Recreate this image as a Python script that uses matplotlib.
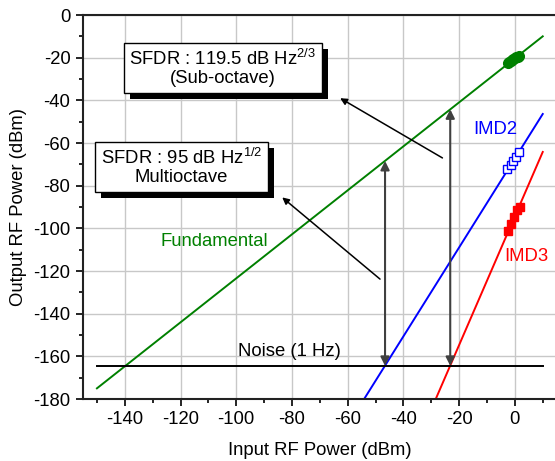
import numpy as np
import matplotlib.pyplot as plt
from matplotlib import patheffects
from matplotlib.ticker import MultipleLocator

plt.rcParams['font.family'] = ['Liberation Sans', 'DejaVu Sans']
plt.rcParams['mathtext.fontset'] = 'custom'
plt.rcParams['mathtext.rm'] = 'Liberation Sans'
plt.rcParams['axes.unicode_minus'] = False

# data
fund_x = [-150, 10]
fund_y = [-175, -10]
imd2_x = [-54.1, 10]
imd2_y = [-180, -46.4]
imd3_x = [-28.4, 10]
imd3_y = [-180, -64.2]
noise_x = [-150, 10]
noise_y = [-164.5, -164.5]

fund_meas_x = [-2.5, -2.0, -1.5, -1.0, -0.5, 0.0, 0.5, 1.0, 1.5]
fund_meas_y = [-22.5, -22.1, -21.6, -21.1, -20.7, -20.3, -19.9, -19.5, -19.1]
imd2_meas_x = [-2.9, -1.4, -0.7, 0.4, 1.4]
imd2_meas_y = [-72.2, -70.3, -68.4, -66.6, -64.2]
imd3_meas_x = [-2.5, -1.4, -0.4, 0.7, 1.8]
imd3_meas_y = [-101.3, -97.9, -94.6, -91.3, -89.9]

# SFDR arrows: x position, fundamental level at that x
sfdr_x = [-46.6, -23.2]
sfdr_top = [-68.4, -44.2]
noise_level = -164.5

FS = 13.3

fig = plt.figure(figsize=(5.55, 4.61), dpi=100)
ax = fig.add_axes([83/555, 1-399/461, 1-83/555, (399-15)/461])

ax.plot(fund_x, fund_y, color='green', lw=1.4)
ax.plot(imd2_x, imd2_y, color='blue', lw=1.4)
ax.plot(imd3_x, imd3_y, color='red', lw=1.4)
ax.plot(noise_x, noise_y, color='black', lw=1.4)

ax.plot(fund_meas_x, fund_meas_y, 'o', color='green', ms=7, mec='green')
ax.plot(imd2_meas_x, imd2_meas_y, 's', color='blue', mfc='white', ms=6, mew=1)
ax.plot(imd3_meas_x, imd3_meas_y, 's', color='red', ms=6)

# vertical SFDR arrows
for x, top in zip(sfdr_x, sfdr_top):
    ax.annotate('', xy=(x, top), xytext=(x, noise_level),
                arrowprops=dict(arrowstyle='<|-|>', color='#404040', lw=1.5,
                                mutation_scale=13, shrinkA=0, shrinkB=0))

# pointer arrows
ax.annotate('', xy=(-62.7, -39), xytext=(-26, -67),
            arrowprops=dict(arrowstyle='-|>', color='black', lw=1.1,
                            mutation_scale=10, shrinkA=0, shrinkB=0))
ax.annotate('', xy=(-83.5, -85.5), xytext=(-48.4, -123.8),
            arrowprops=dict(arrowstyle='-|>', color='black', lw=1.1,
                            mutation_scale=10, shrinkA=0, shrinkB=0))

shadow = [patheffects.SimplePatchShadow(offset=(4.3, -4.3), shadow_rgbFace='black', alpha=1),
          patheffects.Normal()]
t1 = ax.text(-104.8, -24.8, 'SFDR : 119.5 dB Hz$^{\\mathrm{2/3}}$\n(Sub-octave)', ha='center', va='center',
             fontsize=FS, linespacing=1.1,
             bbox=dict(boxstyle='square,pad=0.3', fc='white', ec='black', lw=1))
t1.get_bbox_patch().set_path_effects(shadow)
t2 = ax.text(-119.6, -71.3, 'SFDR : 95 dB Hz$^{\\mathrm{1/2}}$\nMultioctave', ha='center', va='center',
             fontsize=FS, linespacing=1.1,
             bbox=dict(boxstyle='square,pad=0.3', fc='white', ec='black', lw=1))
t2.get_bbox_patch().set_path_effects(shadow)

ax.text(-107.7, -106.4, 'Fundamental', color='green', fontsize=FS, ha='center', va='center')
ax.text(-7.2, -53.9, 'IMD2', color='blue', fontsize=FS, ha='center', va='center')
ax.text(4.3, -113, 'IMD3', color='red', fontsize=FS, ha='center', va='center')
ax.text(-80.8, -157.5, 'Noise (1 Hz)', color='black', fontsize=FS, ha='center', va='center')

ax.set_xlim(-155, 14.4)
ax.set_ylim(-180, 0)
ax.xaxis.set_minor_locator(MultipleLocator(10))
ax.yaxis.set_major_locator(MultipleLocator(20))
ax.yaxis.set_minor_locator(MultipleLocator(10))
ax.set_xticks(np.arange(-140, 1, 20))
ax.tick_params(which='major', direction='out', length=5, width=1.2, labelsize=FS, pad=4)
ax.tick_params(which='minor', direction='out', length=3, width=1.2)
ax.grid(True, which='major', color='#c8c8c8', lw=1)
ax.set_axisbelow(True)
ax.spines['right'].set_visible(False)
for s in ['left', 'bottom', 'top']:
    ax.spines[s].set_linewidth(1.5)
    ax.spines[s].set_color('#222222')

ax.set_xlabel('Input RF Power (dBm)', fontsize=FS)
ax.set_ylabel('Output RF Power (dBm)', fontsize=FS)
ax.xaxis.set_label_coords((320-83)/472, -(442-399)/384)
ax.yaxis.set_label_coords(-((83-27)/472), 0.5)

fig.savefig('out.png', dpi=100)
